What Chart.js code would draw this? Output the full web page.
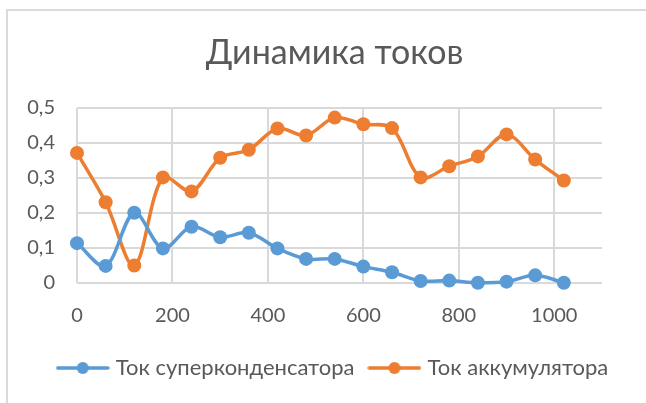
<!DOCTYPE html>
<html>
<head>
<meta charset="utf-8">
<script src="https://cdn.jsdelivr.net/npm/chart.js@4/dist/chart.umd.min.js"></script>
<style>
    html, body { margin: 0; padding: 0; background: #fff; }
    #wrap { position: relative; width: 646px; height: 403px; overflow: hidden; }
    #frame {
        position: absolute; left: 6px; top: 9px; right: -10px; bottom: -10px;
        border-left: 2px solid #dadada; border-top: 2px solid #dadada;
    }
    #chart { position: absolute; left: 0; top: 0; }
</style>
</head>
<body>
<div id="wrap">
    <div id="frame"></div>
    <canvas id="chart" width="646" height="403"></canvas>
</div>
<script>
    // time, s
    var times = [0, 60, 120, 180, 240, 300, 360, 420, 480, 540, 600, 660, 720, 780, 840, 900, 960, 1020];
    // supercapacitor current
    var superCap = [0.113, 0.048, 0.2, 0.098, 0.16, 0.13, 0.143, 0.098, 0.068, 0.068, 0.046, 0.03, 0.005, 0.006, 0, 0.003, 0.021, 0];
    // battery current
    var battery = [0.371, 0.23, 0.049, 0.301, 0.261, 0.357, 0.38, 0.441, 0.421, 0.472, 0.453, 0.442, 0.301, 0.333, 0.361, 0.424, 0.352, 0.292];

    var xTicks = [0, 200, 400, 600, 800, 1000];
    var yTicks = [0, 0.1, 0.2, 0.3, 0.4, 0.5];

    var seriesNames = ['Ток суперконденсатора', 'Ток аккумулятора'];
    var seriesColors = ['#5B9BD5', '#ED7D31'];

    var fontFamily = 'Lato, "Noto Sans", sans-serif';
    var textColor = '#595959';

    function points(values) {
        return times.map(function (t, i) {
            return { x: t, y: values[i] };
        });
    }

    // legend marker: short line with a dot in the middle
    function legendMarker(color) {
        var c = document.createElement('canvas');
        c.width = 54;
        c.height = 14;
        var g = c.getContext('2d');
        g.strokeStyle = color;
        g.lineWidth = 3.5;
        g.lineCap = 'round';
        g.beginPath();
        g.moveTo(2, 7);
        g.lineTo(52, 7);
        g.stroke();
        g.fillStyle = color;
        g.beginPath();
        g.arc(27, 7, 6, 0, Math.PI * 2);
        g.fill();
        return c;
    }

    var markers = seriesColors.map(legendMarker);

    function dataset(label, values, color) {
        return {
            label: label,
            data: points(values),
            showLine: true,
            borderColor: color,
            backgroundColor: color,
            borderWidth: 3.5,
            pointRadius: 7,
            pointBorderWidth: 0,
            pointHoverRadius: 7,
            tension: 0.33,
            clip: false
        };
    }

    var data = {
        datasets: [
            dataset(seriesNames[0], superCap, seriesColors[0]),
            dataset(seriesNames[1], battery, seriesColors[1])
        ]
    };

    var config = {
        type: 'scatter',
        data: data,
        options: {
            animation: false,
            responsive: false,
            events: [],
            layout: {
                padding: { left: 23, right: 0, top: 0, bottom: 14 }
            },
            plugins: {
                title: {
                    display: true,
                    text: 'Динамика токов',
                    color: textColor,
                    font: { family: fontFamily, size: 34, weight: 'normal', lineHeight: 1.2 },
                    padding: { top: 33, bottom: 34 }
                },
                legend: {
                    display: true,
                    position: 'bottom',
                    labels: {
                        usePointStyle: true,
                        pointStyleWidth: 44,
                        padding: 18,
                        color: textColor,
                        font: { family: fontFamily, size: 22 },
                        generateLabels: function (chart) {
                            return chart.data.datasets.map(function (ds, i) {
                                return {
                                    text: ds.label,
                                    pointStyle: markers[i],
                                    fontColor: textColor,
                                    lineWidth: 0,
                                    datasetIndex: i
                                };
                            });
                        }
                    }
                },
                tooltip: { enabled: false }
            },
            scales: {
                x: {
                    type: 'linear',
                    min: 0,
                    max: 1100,
                    afterBuildTicks: function (scale) {
                        scale.ticks = xTicks.map(function (v) { return { value: v }; });
                    },
                    afterFit: function (scale) { scale.height = 56.3; },
                    grid: { color: '#d9d9d9', lineWidth: 2, drawTicks: false },
                    border: { display: false },
                    ticks: {
                        color: textColor,
                        padding: 21,
                        maxRotation: 0,
                        font: { family: fontFamily, size: 20 },
                        callback: function (v) { return String(v); }
                    }
                },
                y: {
                    type: 'linear',
                    min: 0,
                    max: 0.5,
                    afterBuildTicks: function (scale) {
                        scale.ticks = yTicks.map(function (v) { return { value: v }; });
                    },
                    afterFit: function (scale) { scale.width = 54; },
                    grid: { color: '#d9d9d9', lineWidth: 2, drawTicks: false },
                    border: { display: false },
                    ticks: {
                        color: textColor,
                        padding: 22,
                        font: { family: fontFamily, size: 20 },
                        callback: function (v) {
                            return String(Math.round(v * 10) / 10).replace('.', ',');
                        }
                    }
                },
                // empty axis that keeps the right margin
                yRight: {
                    type: 'linear',
                    position: 'right',
                    grid: { display: false },
                    border: { display: false },
                    ticks: { display: false },
                    afterFit: function (scale) { scale.width = 44; }
                }
            }
        }
    };

    var myChart = new Chart(document.getElementById('chart'), config);
</script>
</body>
</html>
